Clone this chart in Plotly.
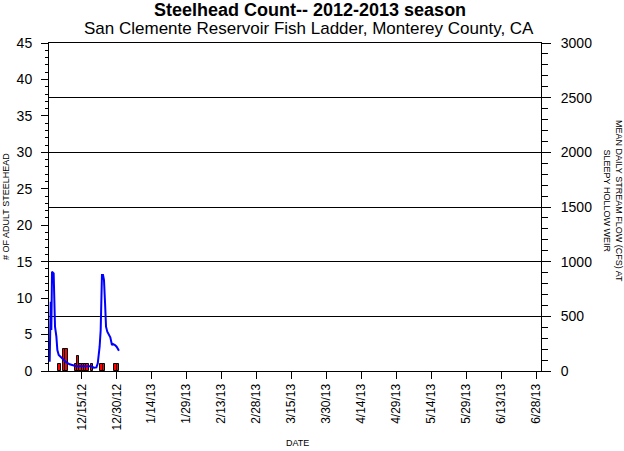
import plotly.graph_objects as go

# Fish counts (adult steelhead per day)
count_dates = ["2012-12-05", "2012-12-07", "2012-12-08", "2012-12-12", "2012-12-13",
               "2012-12-14", "2012-12-15", "2012-12-16", "2012-12-17", "2012-12-19",
               "2012-12-23", "2012-12-24", "2012-12-29", "2012-12-30"]
counts = [1, 3, 3, 1, 2, 1, 1, 1, 1, 1, 1, 1, 1, 1]

# Mean stream flow (cfs) at Sleepy Hollow Weir
flow_times = ["2012-12-01 07:00", "2012-12-01 18:00", "2012-12-02 00:00", "2012-12-02 07:00",
              "2012-12-03 00:00", "2012-12-03 07:00", "2012-12-03 14:00", "2012-12-04 04:00",
              "2012-12-04 14:00", "2012-12-05 04:00", "2012-12-05 21:00", "2012-12-07 00:00",
              "2012-12-08 11:00", "2012-12-09 21:00", "2012-12-11 07:00", "2012-12-12 17:00",
              "2012-12-17 00:00", "2012-12-19 05:00", "2012-12-20 05:00", "2012-12-21 08:00",
              "2012-12-21 22:00", "2012-12-22 08:00", "2012-12-22 17:00", "2012-12-23 04:00",
              "2012-12-23 10:00", "2012-12-23 17:00", "2012-12-24 04:00", "2012-12-24 14:00",
              "2012-12-25 01:00", "2012-12-25 11:00", "2012-12-26 00:00", "2012-12-26 17:00",
              "2012-12-27 07:00", "2012-12-28 00:00", "2012-12-28 10:00", "2012-12-29 07:00",
              "2012-12-30 00:00", "2012-12-31 00:00"]
flow = [85, 634, 375, 908, 893, 528, 405, 314, 192, 146, 131, 107, 79, 61, 49, 43,
        43, 43, 30, 33, 70, 131, 222, 375, 619, 878, 878, 832, 619, 405, 360, 329,
        308, 238, 247, 238, 222, 186]

# X tick labels
tick_dates = ["2012-12-15", "2012-12-30", "2013-01-14", "2013-01-29", "2013-02-13",
              "2013-02-28", "2013-03-15", "2013-03-30", "2013-04-14", "2013-04-29",
              "2013-05-14", "2013-05-29", "2013-06-13", "2013-06-28"]
tick_text = ["12/15/12", "12/30/12", "1/14/13", "1/29/13", "2/13/13", "2/28/13", "3/15/13",
             "3/30/13", "4/14/13", "4/29/13", "5/14/13", "5/29/13", "6/13/13", "6/28/13"]

FONT = "Arial, Liberation Sans, sans-serif"
DAY_MS = 86400000

fig = go.Figure()
fig.add_trace(go.Bar(
    x=[d + " 12:00" for d in count_dates], y=counts, width=DAY_MS,
    marker=dict(color="#FF0000", line=dict(color="black", width=1)),
    yaxis="y", showlegend=False))
fig.add_trace(go.Scatter(
    x=flow_times, y=flow, mode="lines", line=dict(color="#0000FF", width=2),
    yaxis="y2", showlegend=False))

fig.update_layout(
    width=624, height=451,
    margin=dict(l=49, r=83, t=43, b=80),
    paper_bgcolor="white", plot_bgcolor="white",
    font=dict(family=FONT, color="black"),
    bargap=0,
    xaxis=dict(
        type="date", range=["2012-12-01", "2013-06-30"], automargin=False,
        tickvals=tick_dates, ticktext=tick_text, tickangle=-90,
        tickfont=dict(size=12), ticks="outside", ticklen=7, tickcolor="black",
        showline=True, linecolor="black", linewidth=1, mirror=True,
        showgrid=False, zeroline=False),
    yaxis=dict(
        range=[0, 45], dtick=5, tickfont=dict(size=14), automargin=False,
        ticks="outside", ticklen=7, tickcolor="black", ticklabelstandoff=6,
        minor=dict(dtick=1, ticks="outside", ticklen=3, tickcolor="black"),
        showline=True, linecolor="black", linewidth=1,
        showgrid=False, zeroline=False),
    yaxis2=dict(
        range=[0, 3000], dtick=500, overlaying="y", side="right", automargin=False,
        tickfont=dict(size=14), ticks="outside", ticklen=9, tickcolor="black",
        ticklabelstandoff=7,
        minor=dict(dtick=100, ticks="outside", ticklen=6, tickcolor="black"),
        showline=True, linecolor="black", linewidth=1,
        showgrid=True, gridcolor="black", gridwidth=1, zeroline=False),
    annotations=[
        dict(text="<b>Steelhead Count-- 2012-2013 season</b>", xref="paper", yref="paper",
             x=(310 - 49) / 492, y=1 + 33 / 328, xanchor="center", yanchor="middle",
             showarrow=False, font=dict(size=18)),
        dict(text="San Clemente Reservoir Fish Ladder, Monterey County, CA", xref="paper",
             yref="paper", x=(309 - 49) / 492, y=1 + 14 / 328, xanchor="center",
             yanchor="middle", showarrow=False, font=dict(size=17)),
        dict(text="# OF ADULT STEELHEAD", xref="paper", yref="paper",
             x=(6 - 49) / 492, y=0.5, xanchor="center", yanchor="middle",
             textangle=-90, showarrow=False, font=dict(size=9)),
        dict(text="MEAN DAILY STREAM FLOW (CFS) AT<br>SLEEPY HOLLOW WEIR", xref="paper",
             yref="paper", x=(613 - 49) / 492, y=(371 - 201) / 328, xanchor="center",
             yanchor="middle", textangle=90, showarrow=False, font=dict(size=9)),
        dict(text="DATE", xref="paper", yref="paper", x=(297 - 49) / 492,
             y=(371 - 443) / 328, xanchor="center", yanchor="middle",
             showarrow=False, font=dict(size=9)),
    ],
)

fig.write_html("out.html", config={"displayModeBar": False},
               post_script="document.body.style.margin='0';")
